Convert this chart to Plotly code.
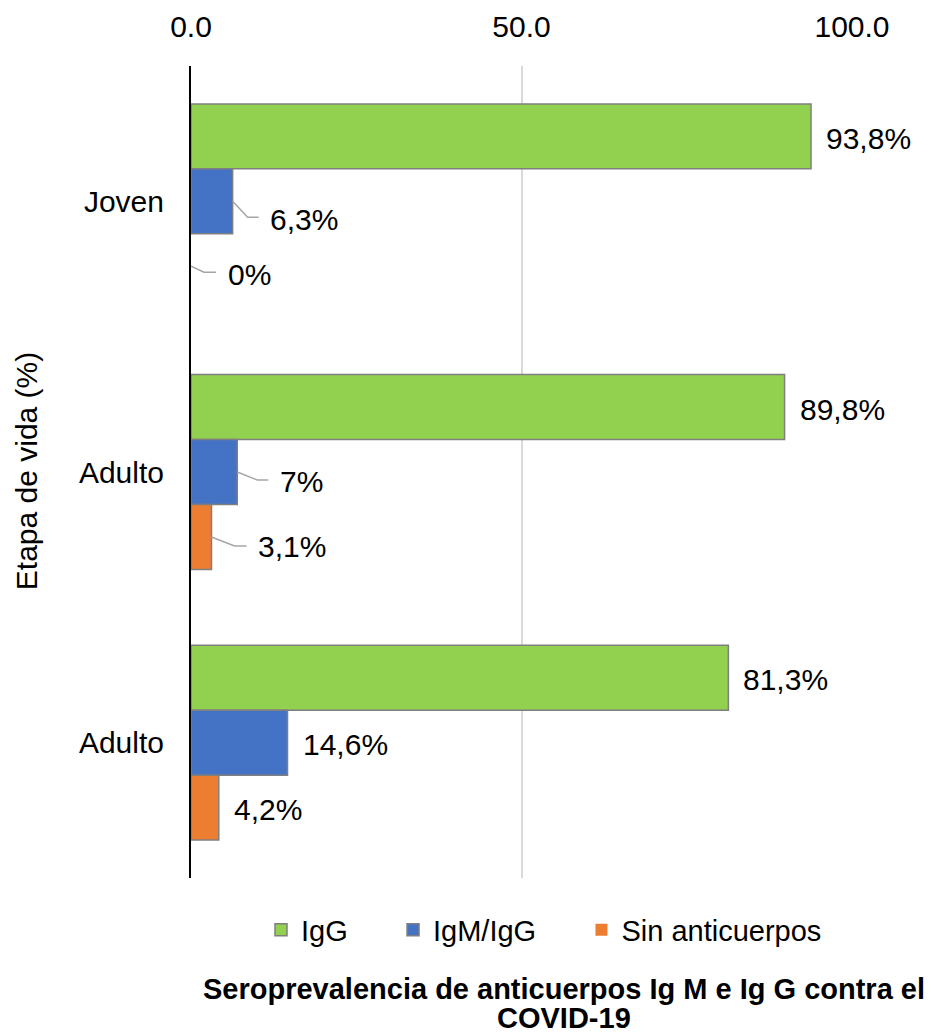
import plotly.graph_objects as go

# ---- data ----
categories = ["Joven", "Adulto", "Adulto"]
series_names = ["IgG", "IgM/IgG", "Sin anticuerpos"]
igg = [93.8, 89.8, 81.3]
igm_igg = [6.3, 7.0, 14.6]
sin_anticuerpos = [0.0, 3.1, 4.2]
x_ticks = [0, 50, 100]

# ---- style ----
colors = ["#92D050", "#4472C4", "#ED7D31"]
outline = "#7F7F7F"
leader_color = "#A6A6A6"
FONT = "Liberation Sans, Arial, sans-serif"
W, H = 931, 1035
M_L, M_R, M_T, M_B = 191, 79, 66, 157
BARGAP = 0.28
X_MAX = 100

plot_w = W - M_L - M_R
plot_h = H - M_T - M_B
px_x = plot_w / X_MAX            # pixels per x unit
px_y = plot_h / len(categories)  # pixels per category

positions = list(range(len(categories)))
values = [igg, igm_igg, sin_anticuerpos]
legend_pad = [5, 5, 0]  # extra spacing after legend entries
n_series = len(values)
bar_w = (1 - BARGAP) / n_series


def fmt(v):
    if float(v).is_integer():
        return f"{int(v)}%"
    return f"{v:.1f}".replace(".", ",") + "%"


def bar_center(i, k):
    return positions[i] + (k - (n_series - 1) / 2) * bar_w


# leader-line labels: (row, series) -> elbow offset, end dx, text offset (pixels)
leaders = {
    (0, 1): dict(elbow=(15, 16), end=26, text=(35, 18)),
    (0, 2): dict(elbow=(13, 6), end=25, text=(35, 8)),
    (1, 1): dict(elbow=(20, 8), end=31, text=(41, 9)),
    (1, 2): dict(elbow=(23, 9), end=35, text=(45, 10)),
}
plain_offset = (13, 2)

fig = go.Figure()
for k, (name, vals, col) in enumerate(zip(series_names, values, colors)):
    fig.add_trace(go.Bar(
        y=positions, x=vals, orientation="h",
        name=name + "\u00a0" * legend_pad[k],
        marker=dict(color=col,
                    line=dict(color=outline,
                              width=[1.5 if v > 0 else 0 for v in vals])),
        hovertemplate=name + ": %{x}<extra></extra>",
    ))

annotations = []
for k, vals in enumerate(values):
    for i, v in enumerate(vals):
        yc = bar_center(i, k)
        if (i, k) in leaders:
            L = leaders[(i, k)]
            ex, ey = L["elbow"]
            fig.add_trace(go.Scatter(
                x=[v, v + ex / px_x, v + L["end"] / px_x],
                y=[yc, yc + ey / px_y, yc + ey / px_y],
                mode="lines", line=dict(color=leader_color, width=1.5),
                showlegend=False, hoverinfo="skip",
            ))
            tdx, tdy = L["text"]
        else:
            tdx, tdy = plain_offset
        annotations.append(dict(
            x=v, y=yc, xref="x", yref="y", text=fmt(v), showarrow=False,
            xanchor="left", yanchor="middle", xshift=tdx, yshift=-tdy,
            font=dict(size=30, color="#000000", family=FONT),
        ))

# axis title and chart title
annotations.append(dict(
    x=(26 - M_L) / plot_w, y=0.501, xref="paper", yref="paper",
    text="Etapa de vida (%)", textangle=-90, showarrow=False,
    xanchor="center", yanchor="middle",
    font=dict(size=30, color="#000000", family=FONT),
))
annotations.append(dict(
    x=(564 - M_L) / plot_w, y=-(989 - (H - M_B)) / plot_h, xref="paper", yref="paper",
    text="<b>Seroprevalencia de anticuerpos Ig M e Ig G contra el</b>",
    showarrow=False, xanchor="center", yanchor="middle",
    font=dict(size=29, color="#000000", family=FONT),
))
annotations.append(dict(
    x=(564 - M_L) / plot_w, y=-(1018 - (H - M_B)) / plot_h, xref="paper", yref="paper",
    text="<b>COVID-19</b>",
    showarrow=False, xanchor="center", yanchor="middle",
    font=dict(size=29, color="#000000", family=FONT),
))

fig.update_layout(
    width=W, height=H,
    margin=dict(l=M_L, r=M_R, t=M_T, b=M_B, autoexpand=False),
    plot_bgcolor="white", paper_bgcolor="white",
    barmode="group", bargap=BARGAP, bargroupgap=0,
    font=dict(family=FONT, color="#000000"),
    showlegend=True,
    legend=dict(
        orientation="h", x=(261 - M_L) / plot_w, xanchor="left",
        y=-(930 - (H - M_B)) / plot_h, yanchor="middle",
        font=dict(size=29, color="#000000", family=FONT),
        bgcolor="rgba(0,0,0,0)", traceorder="normal",
    ),
    annotations=annotations,
)
fig.update_xaxes(
    side="top", range=[0, X_MAX], tickvals=x_ticks,
    ticktext=[f"{t:.1f}" for t in x_ticks],
    showgrid=True, gridcolor="#D9D9D9", gridwidth=1.5,
    zeroline=False, showline=False,
    ticks="outside", ticklen=16, tickcolor="rgba(0,0,0,0)",
    tickfont=dict(size=30, color="#000000", family=FONT),
)
fig.update_yaxes(
    tickvals=positions, ticktext=categories,
    range=[len(categories) - 0.5, -0.5],
    showline=True, linecolor="#000000", linewidth=2,
    showgrid=False, zeroline=False,
    ticks="outside", ticklen=19, tickcolor="rgba(0,0,0,0)",
    tickfont=dict(size=30, color="#000000", family=FONT),
)

fig.write_html("out.html")
